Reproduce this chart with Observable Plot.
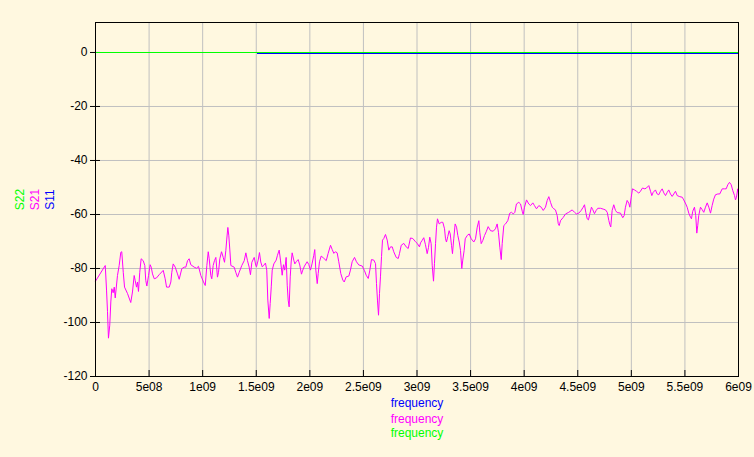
<!DOCTYPE html>
<html>
<head>
<meta charset="utf-8">
<script src="https://cdn.jsdelivr.net/npm/d3@7"></script>
<script src="https://cdn.jsdelivr.net/npm/@observablehq/plot@0.6"></script>
<style>
  html, body { margin: 0; padding: 0; background: #FFF8E0; }
  #chart svg { display: block; }
</style>
</head>
<body>
<div id="chart"></div>
<script>
// ---- Tick values and labels ----
const xTicks = [0, 0.5e9, 1e9, 1.5e9, 2e9, 2.5e9, 3e9, 3.5e9, 4e9, 4.5e9, 5e9, 5.5e9, 6e9];
const xTickLabels = ["0", "5e08", "1e09", "1.5e09", "2e09", "2.5e09", "3e09", "3.5e09", "4e09", "4.5e09", "5e09", "5.5e09", "6e09"];
const yTicks = [-120, -100, -80, -60, -40, -20, 0];
const yTickLabels = ["-120", "-100", "-80", "-60", "-40", "-20", "0"];

// ---- Series names / colours ----
const seriesNames = ["S11", "S21", "S22"];
const seriesColors = ["#0000FF", "#FF00FF", "#00FF00"];
const xLabel = "frequency";

// ---- S21 (GHz, dB) ----
const s21Freq = [0,0.091,0.103,0.112,0.121,0.133,0.143,0.152,0.165,0.175,0.184,0.205,0.221,0.236,0.245,0.259,0.271,0.299,0.329,0.345,0.361,0.370,0.383,0.392,0.401,0.413,0.426,0.445,0.460,0.469,0.479,0.495,0.510,0.520,0.532,0.548,0.569,0.594,0.632,0.650,0.663,0.688,0.703,0.712,0.725,0.744,0.765,0.781,0.805,0.828,0.843,0.859,0.874,0.889,0.921,0.942,0.961,0.983,1.008,1.024,1.039,1.052,1.061,1.076,1.085,1.098,1.110,1.123,1.138,1.148,1.160,1.176,1.192,1.204,1.216,1.225,1.235,1.244,1.253,1.263,1.294,1.309,1.325,1.341,1.365,1.388,1.403,1.418,1.434,1.446,1.459,1.481,1.496,1.502,1.518,1.530,1.542,1.556,1.570,1.586,1.598,1.608,1.621,1.630,1.640,1.649,1.664,1.686,1.698,1.714,1.726,1.742,1.754,1.766,1.779,1.789,1.798,1.807,1.817,1.826,1.835,1.850,1.860,1.873,1.891,1.906,1.922,1.934,1.950,1.975,1.990,2.006,2.022,2.037,2.046,2.056,2.069,2.078,2.090,2.106,2.130,2.153,2.171,2.193,2.209,2.224,2.239,2.255,2.270,2.289,2.308,2.321,2.339,2.364,2.379,2.395,2.417,2.435,2.457,2.489,2.510,2.526,2.545,2.560,2.575,2.597,2.613,2.622,2.631,2.641,2.650,2.659,2.669,2.678,2.690,2.706,2.722,2.737,2.753,2.769,2.783,2.806,2.825,2.837,2.853,2.877,2.899,2.918,2.939,2.961,2.986,3.002,3.023,3.033,3.048,3.063,3.079,3.095,3.107,3.119,3.132,3.142,3.154,3.163,3.173,3.182,3.191,3.207,3.226,3.241,3.257,3.266,3.275,3.287,3.300,3.310,3.322,3.331,3.343,3.356,3.369,3.381,3.394,3.406,3.418,3.427,3.440,3.450,3.468,3.487,3.506,3.530,3.546,3.562,3.577,3.586,3.599,3.614,3.630,3.648,3.664,3.686,3.711,3.732,3.748,3.760,3.773,3.786,3.795,3.810,3.826,3.847,3.866,3.882,3.898,3.913,3.928,3.950,3.966,3.982,3.991,4.003,4.022,4.043,4.059,4.081,4.096,4.115,4.137,4.159,4.178,4.199,4.215,4.230,4.246,4.262,4.277,4.292,4.308,4.318,4.327,4.339,4.364,4.386,4.416,4.448,4.470,4.488,4.510,4.532,4.551,4.563,4.575,4.588,4.600,4.612,4.628,4.640,4.656,4.672,4.687,4.712,4.737,4.759,4.775,4.790,4.799,4.808,4.821,4.836,4.852,4.868,4.899,4.920,4.933,4.945,4.961,4.976,4.986,4.999,5.011,5.029,5.048,5.070,5.085,5.104,5.126,5.141,5.163,5.179,5.191,5.204,5.225,5.241,5.256,5.272,5.288,5.303,5.319,5.335,5.349,5.365,5.381,5.396,5.412,5.428,5.452,5.475,5.489,5.508,5.521,5.536,5.552,5.561,5.573,5.589,5.601,5.611,5.620,5.629,5.645,5.661,5.676,5.692,5.708,5.723,5.739,5.754,5.769,5.785,5.807,5.825,5.848,5.869,5.885,5.900,5.916,5.932,5.947,5.963,5.972,5.981,5.993,6.000];
const s21Db = [-84.7,-78.9,-88,-96,-105.8,-101,-92.4,-87.5,-89,-86.9,-90.9,-82.6,-78.9,-74,-73.8,-81.4,-86.9,-89.3,-92.6,-88.7,-82.6,-84.4,-86.9,-85,-88.5,-81.4,-76.4,-77.1,-78.9,-84.4,-86.5,-82.6,-78.6,-79.5,-82,-83.8,-83.5,-82.3,-80.7,-83.8,-86.9,-86.9,-85,-81.4,-78.3,-79.5,-82,-84,-80.1,-79.5,-79.5,-77.1,-76.4,-78.6,-79.5,-79.9,-79.2,-82.6,-85,-86.3,-78.9,-73.8,-76.4,-82.6,-83.8,-78.9,-77.1,-75.9,-83.2,-81.4,-76.4,-73.8,-75.9,-77.7,-73.4,-69.1,-64.8,-67.9,-72.8,-78.9,-79.5,-81.4,-83.2,-81.4,-78.9,-77.1,-74.2,-77.1,-79.5,-82.3,-77.7,-75.9,-78.9,-79.4,-76.9,-74.1,-77.6,-79.4,-78.8,-78,-80.6,-91.7,-98.5,-93,-86.8,-80.6,-78.3,-76.9,-75.1,-73.2,-76.9,-82.5,-78.6,-80.6,-75.9,-86.2,-91.7,-94.2,-83.1,-77.6,-74.2,-76.9,-78.3,-77.5,-76.7,-78.7,-82.1,-80.6,-79.1,-77.5,-78.5,-80.6,-78,-75.1,-73,-80.6,-85.6,-81.9,-77.5,-75.4,-76.2,-77.1,-74.4,-71.4,-73,-74.4,-73.8,-74.2,-77.5,-81.9,-84.3,-85,-83.1,-82.8,-80.6,-77.5,-75.9,-77.5,-78.7,-79.1,-80.8,-82.5,-83.7,-80.6,-76.7,-76.9,-78.2,-85.6,-91.7,-97.3,-89.3,-83.1,-75.6,-69.5,-68.9,-67.4,-69.5,-73.2,-72,-72,-73.8,-75.9,-76.3,-74.4,-71.4,-70.7,-72,-72.6,-68.7,-68.9,-70.1,-70.7,-72,-70.5,-69.6,-68.6,-71.2,-74.5,-72.3,-68.4,-70.8,-78.8,-84.7,-78.2,-70.8,-64.7,-61.6,-63.5,-62.9,-62.9,-65.3,-69,-70.2,-68.2,-66,-67.2,-71.4,-74.5,-69,-63.5,-64.7,-67.8,-70.2,-73.3,-80,-76.9,-73.3,-69,-67.8,-67.2,-69,-70.2,-69,-64.7,-62.3,-66.6,-70.8,-69.6,-67.8,-66.2,-64.5,-66,-66.2,-65.3,-63.5,-66.6,-72.1,-76.7,-70.8,-64.1,-63.5,-62.3,-59.5,-59.2,-59.8,-59.2,-56.1,-55.5,-56.1,-58.8,-60,-57.3,-54.6,-56.1,-56.7,-55.7,-56.7,-57.9,-56.7,-57.3,-58.5,-57.3,-54.8,-53.4,-55.5,-57.3,-57.9,-58.3,-60.4,-63.4,-64.1,-62.3,-61.1,-59.8,-59.2,-58.3,-59.2,-59.8,-59.5,-58.5,-57.3,-56.4,-59.2,-61.6,-62,-59.9,-57.3,-58.2,-59.7,-58.5,-57.7,-57.7,-58,-58.3,-59.2,-62.2,-63.7,-64.6,-58.5,-56.4,-58.5,-59.3,-59.5,-61.2,-60.4,-57.3,-54.8,-55.8,-57.3,-53.6,-50.5,-50.9,-51.4,-52.1,-51.4,-50.2,-50.5,-50.2,-49.3,-51.4,-53,-51.8,-50.9,-52.4,-52.7,-51.4,-50.5,-52,-53,-51.8,-50.9,-52.4,-53.3,-52.4,-51.4,-53,-53.4,-53.6,-54.6,-56.1,-57.3,-59.5,-61,-61.6,-58.8,-57.3,-60.4,-66.9,-64,-60.4,-57.3,-58.2,-59.2,-57.3,-55.7,-57.3,-59.5,-56.7,-54.3,-52.7,-52.4,-52.4,-50.5,-50.5,-50.5,-49,-48.1,-49,-51.2,-53,-54.6,-53.6,-50.5,-52];

// ---- S11 and S22 (GHz, dB), almost flat near 0 dB ----
const s11Freq = [0, 1.50, 1.52, 6.00];
const s11Db   = [0, 0, -0.4, -0.4];
const s22Freq = [0, 6.00];
const s22Db   = [0, 0];

const toRows = (fs, vs) => fs.map((f, i) => ({f: f * 1e9, v: vs[i]}));
const s11 = toRows(s11Freq, s11Db);
const s21 = toRows(s21Freq, s21Db);
const s22 = toRows(s22Freq, s22Db);

const font = "'Liberation Sans', Arial, sans-serif";

const chart = Plot.plot({
  width: 754,
  height: 457,
  marginLeft: 95,
  marginRight: 16,
  marginTop: 22,
  marginBottom: 81,
  style: {background: "#FFF8E0", fontFamily: font, fontSize: "12px", color: "#000", overflow: "visible"},
  x: {domain: [0, 6e9], label: null},
  y: {domain: [-120, 11.1], label: null},
  marks: [
    Plot.gridX(xTicks, {stroke: "#C0C0C0", strokeOpacity: 1}),
    Plot.gridY(yTicks, {stroke: "#C0C0C0", strokeOpacity: 1}),
    // tick marks
    Plot.axisX(xTicks, {tickSize: 6, dy: -6, tickFormat: () => "", stroke: "#000", label: null}),
    Plot.axisY(yTicks, {tickSize: 10, dx: 5, tickFormat: () => "", stroke: "#000", label: null}),
    // tick labels
    Plot.axisX(xTicks, {tickSize: 0, tickPadding: 6, tickFormat: (d, i) => xTickLabels[i], fill: "#000", fontSize: 12, label: null}),
    Plot.axisY(yTicks, {tickSize: 0, tickPadding: 8, tickFormat: (d, i) => yTickLabels[i], fill: "#000", fontSize: 12, label: null}),
    // series
    Plot.line(s11, {x: "f", y: "v", stroke: seriesColors[0], strokeWidth: 1, shapeRendering: "crispEdges"}),
    Plot.line(s21, {x: "f", y: "v", stroke: seriesColors[1], strokeWidth: 1}),
    Plot.line(s22, {x: "f", y: "v", stroke: seriesColors[2], strokeWidth: 1, shapeRendering: "crispEdges"}),
    Plot.frame({stroke: "#000", strokeWidth: 1}),
    // rotated series labels on the left
    Plot.text([seriesNames[2]], {text: d => d, frameAnchor: "left", textAnchor: "middle", lineAnchor: "middle", dx: -75, rotate: -90, fill: seriesColors[2], fontSize: 12}),
    Plot.text([seriesNames[1]], {text: d => d, frameAnchor: "left", textAnchor: "middle", lineAnchor: "middle", dx: -60, rotate: -90, fill: seriesColors[1], fontSize: 12}),
    Plot.text([seriesNames[0]], {text: d => d, frameAnchor: "left", textAnchor: "middle", lineAnchor: "middle", dx: -45, rotate: -90, fill: seriesColors[0], fontSize: 12}),
    // x-axis labels, one per series
    Plot.text([xLabel], {text: d => d, frameAnchor: "bottom", lineAnchor: "middle", dy: 27, fill: seriesColors[0], fontSize: 12}),
    Plot.text([xLabel], {text: d => d, frameAnchor: "bottom", lineAnchor: "middle", dy: 43, fill: seriesColors[1], fontSize: 12}),
    Plot.text([xLabel], {text: d => d, frameAnchor: "bottom", lineAnchor: "middle", dy: 57, fill: seriesColors[2], fontSize: 12})
  ]
});
document.getElementById("chart").append(chart);
</script>
</body>
</html>
